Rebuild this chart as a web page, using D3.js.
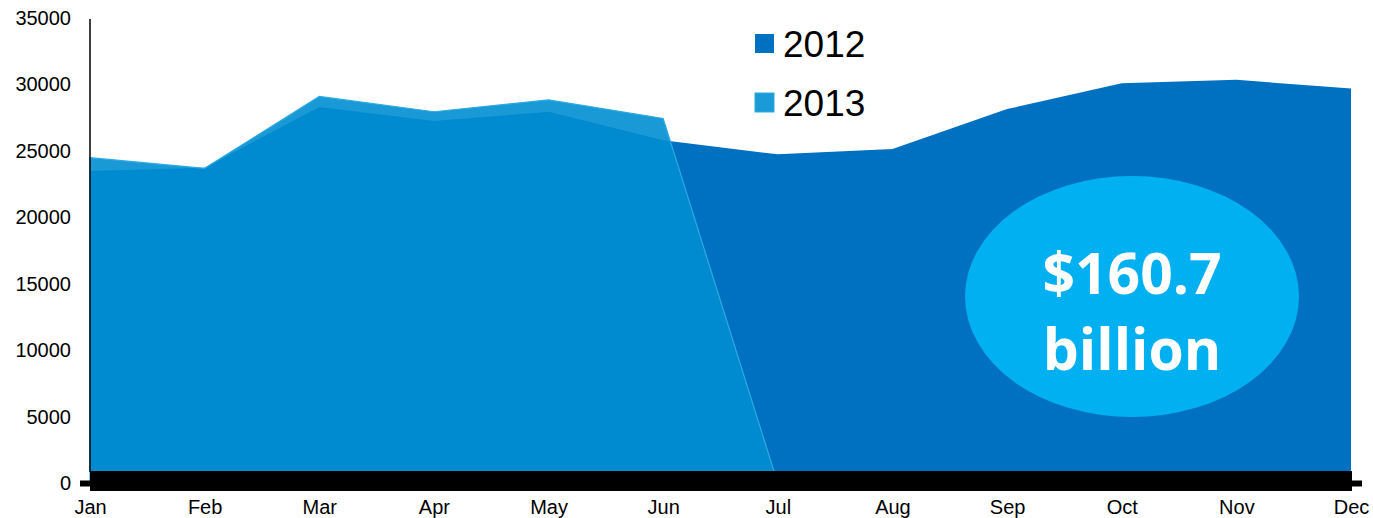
<!DOCTYPE html>
<html>
<head>
<meta charset="utf-8">
<script src="https://cdn.jsdelivr.net/npm/d3@7"></script>
<style>
  body { margin: 0; background: #fff; }
  svg text { font-family: "Liberation Sans", Arial, sans-serif; }
</style>
</head>
<body>
<div id="chart"></div>
<script>
const MONTHS = ['Jan','Feb','Mar','Apr','May','Jun','Jul','Aug','Sep','Oct','Nov','Dec'];
const VALUES_2012 = [23500, 23750, 28300, 27250, 27950, 25800, 24750, 25150, 28150, 30100, 30350, 29700];
const VALUES_2013 = [24500, 23700, 29100, 27950, 28850, 27450, 0];
const Y_TICKS = [0, 5000, 10000, 15000, 20000, 25000, 30000, 35000];
const SERIES = ['2012', '2013'];
const TOTAL_LABEL = ['$160.7', 'billion'];

const W = 1373, H = 518;

const svg = d3.select('#chart')
    .append('svg')
    .attr('width', W)
    .attr('height', H);

const x = d3.scalePoint()
    .domain(MONTHS)
    .range([90, 1351]);

const y = d3.scaleLinear()
    .domain([0, 35000])
    .range([483.5, 18]);

// areas
const area = d3.area()
    .x((d, i) => x(MONTHS[i]))
    .y0(y(0))
    .y1(d => y(d));

svg.append('path')
    .datum(VALUES_2012)
    .attr('d', area)
    .attr('fill', '#0070c0');

svg.append('path')
    .datum(VALUES_2013)
    .attr('d', area)
    .attr('fill', 'rgb(0,142,209)')
    .attr('fill-opacity', 0.9)
    .attr('stroke', '#2eaae3')
    .attr('stroke-width', 1.2);

// big total bubble
const bubble = svg.append('g').attr('transform', 'translate(1132,296.5)');
bubble.append('ellipse')
    .attr('rx', 167)
    .attr('ry', 120.5)
    .attr('fill', '#00b0f0');
bubble.selectAll('text')
    .data(TOTAL_LABEL)
    .enter().append('text')
    .attr('text-anchor', 'middle')
    .attr('y', (d, i) => i === 0 ? -3 : 73)
    .style('font-family', '"Open Sans", sans-serif')
    .style('font-weight', 'bold')
    .style('font-size', '57px')
    .attr('fill', '#fff')
    .text(d => d);

// y axis
const yAxis = d3.axisLeft(y)
    .tickValues(Y_TICKS)
    .tickSize(0)
    .tickPadding(19)
    .tickFormat(d3.format('d'));

const gy = svg.append('g')
    .attr('transform', 'translate(90,0)')
    .call(yAxis);
gy.select('.domain').remove();
gy.selectAll('text')
    .style('font-size', '20px')
    .attr('fill', '#000');

svg.append('line')
    .attr('x1', 90).attr('x2', 90)
    .attr('y1', y(35000) + 1).attr('y2', 472)
    .attr('stroke', '#000')
    .attr('stroke-width', 1.5);

// thick x axis bar with end ticks
svg.append('rect')
    .attr('x', 90)
    .attr('y', 471)
    .attr('width', x('Dec') - 90 + 1)
    .attr('height', 20)
    .attr('fill', '#000');
svg.append('rect')
    .attr('x', 80).attr('y', y(0) - 3)
    .attr('width', 12).attr('height', 6)
    .attr('fill', '#000');
svg.append('rect')
    .attr('x', x('Dec')).attr('y', y(0) - 3)
    .attr('width', 11).attr('height', 6)
    .attr('fill', '#000');

// month labels
const xAxis = d3.axisBottom(x).tickSize(0).tickPadding(0);
const gx = svg.append('g')
    .attr('transform', 'translate(0,495)')
    .call(xAxis);
gx.select('.domain').remove();
gx.selectAll('text')
    .attr('dy', '0.95em')
    .style('font-size', '20px')
    .attr('fill', '#000');

// legend
const legend = svg.append('g')
    .selectAll('g')
    .data(SERIES)
    .enter().append('g')
    .attr('transform', (d, i) => `translate(755,${34 + i * 59})`);

legend.append('rect')
    .attr('width', 19)
    .attr('height', 19)
    .attr('fill', (d, i) => i === 0 ? '#0070c0' : '#1a9ad6')
    .attr('stroke', (d, i) => i === 0 ? 'none' : '#2eaae3')
    .attr('stroke-width', 1);

legend.append('text')
    .attr('x', 28)
    .attr('y', 23)
    .style('font-size', '37px')
    .attr('fill', '#000')
    .text(d => d);
</script>
</body>
</html>
